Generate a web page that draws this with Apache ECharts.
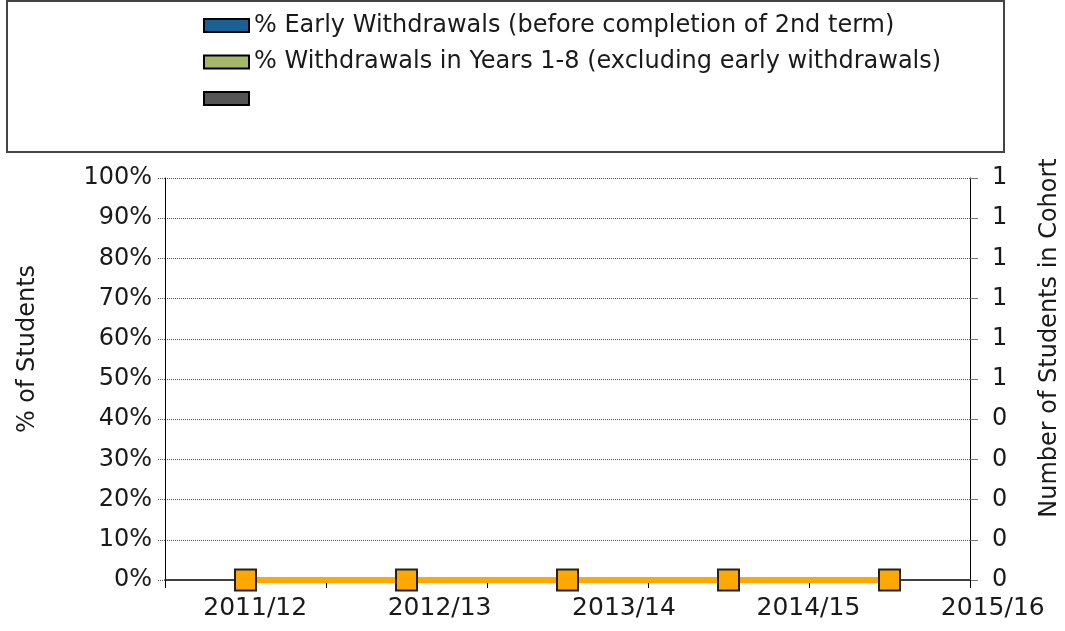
<!DOCTYPE html>
<html>
<head>
<meta charset="utf-8">
<script src="https://cdn.jsdelivr.net/npm/echarts@6/dist/echarts.min.js"></script>
<style>
  html, body { margin: 0; padding: 0; background: #fff; }
  #chart { width: 1065px; height: 631px; }
</style>
</head>
<body>
<div id="chart"></div>
<script>
// data
var years = ["2011/12", "2012/13", "2013/14", "2014/15", "2015/16"];
var earlyWithdrawals = [0, 0, 0, 0, 0];
var laterWithdrawals = [0, 0, 0, 0, 0];
var otherSeries = [0, 0, 0, 0, 0];
var cohortSize = [0, 0, 0, 0, 0];
var leftTicks = ["0%", "10%", "20%", "30%", "40%", "50%", "60%", "70%", "80%", "90%", "100%"];
var rightTicks = ["0", "0", "0", "0", "0", "1", "1", "1", "1", "1", "1"];

var FONT = "DejaVu Sans";
var TXT = "#1a1a1a";

var chart = echarts.init(document.getElementById("chart"));

function tickIdx(v) {
  return Math.round(v * 10);
}

chart.setOption({
  animation: false,
  textStyle: { fontFamily: FONT, color: TXT },
  graphic: [
    {
      type: "rect",
      shape: { x: 7, y: 1, width: 997, height: 151 },
      style: { fill: "none", stroke: "#444", lineWidth: 2 },
      silent: true
    }
  ],
  legend: {
    orient: "vertical",
    left: 203,
    top: 12.5,
    padding: 0,
    itemWidth: 45,
    itemHeight: 13,
    itemGap: 10.5,
    data: [
      "% Early Withdrawals (before completion of 2nd term)",
      "% Withdrawals in Years 1-8 (excluding early withdrawals)",
      " "
    ],
    icon: "rect",
    itemStyle: { borderColor: "#000", borderWidth: 2 },
    textStyle: { fontFamily: FONT, fontSize: 24, color: TXT, lineHeight: 26 }
  },
  grid: [
    { left: 165, width: 805, top: 178, height: 402, outerBoundsMode: "none" },
    { left: 163, width: 922, top: 178, height: 402, outerBoundsMode: "none" }
  ],
  xAxis: [
    {
      gridIndex: 0,
      type: "category",
      data: years,
      boundaryGap: true,
      axisLine: { lineStyle: { color: "#404040", width: 2 } },
      axisTick: { show: true, length: 8, lineStyle: { color: "#000" } },
      axisLabel: { show: false },
      splitLine: { show: false }
    },
    {
      gridIndex: 1,
      type: "category",
      data: years,
      boundaryGap: true,
      axisLine: { show: false },
      axisTick: { show: false },
      axisLabel: { fontFamily: FONT, fontSize: 25, color: TXT, margin: 16 },
      splitLine: { show: false }
    }
  ],
  yAxis: [
    {
      gridIndex: 0,
      type: "value",
      min: 0,
      max: 1,
      interval: 0.1,
      name: "% of Students",
      nameLocation: "middle",
      nameRotate: 90,
      nameGap: 125,
      nameTextStyle: { fontFamily: FONT, fontSize: 24, color: TXT, padding: [0, 0, 0, 60] },
      axisLine: { show: true, lineStyle: { color: "#000", width: 1 } },
      axisTick: { show: true, length: 8, lineStyle: { color: "#555", type: "dotted" } },
      axisLabel: {
        fontFamily: FONT, fontSize: 24, color: TXT, margin: 13,
        formatter: function (v) { return leftTicks[tickIdx(v)]; }
      },
      splitLine: { show: true, lineStyle: { color: "#555", type: "dotted", width: 1 } }
    },
    {
      gridIndex: 0,
      type: "value",
      position: "right",
      min: 0,
      max: 1,
      interval: 0.1,
      name: "Number of Students in Cohort",
      nameLocation: "middle",
      nameRotate: 90,
      nameGap: 68,
      nameTextStyle: { fontFamily: FONT, fontSize: 24, color: TXT, padding: [0, 0, 0, 82] },
      axisLine: { show: true, lineStyle: { color: "#000", width: 1 } },
      axisTick: { show: true, length: 8, lineStyle: { color: "#777" } },
      axisLabel: {
        fontFamily: FONT, fontSize: 24, color: TXT, margin: 22,
        formatter: function (v) { return rightTicks[tickIdx(v)]; }
      },
      splitLine: { show: false }
    },
    { gridIndex: 1, type: "value", show: false }
  ],
  series: [
    {
      name: "% Early Withdrawals (before completion of 2nd term)",
      type: "bar",
      stack: "pct",
      xAxisIndex: 0,
      yAxisIndex: 0,
      data: earlyWithdrawals,
      itemStyle: { color: "#1B6094" }
    },
    {
      name: "% Withdrawals in Years 1-8 (excluding early withdrawals)",
      type: "bar",
      stack: "pct",
      xAxisIndex: 0,
      yAxisIndex: 0,
      data: laterWithdrawals,
      itemStyle: { color: "#A5B86A" }
    },
    {
      name: " ",
      type: "bar",
      stack: "pct",
      xAxisIndex: 0,
      yAxisIndex: 0,
      data: otherSeries,
      itemStyle: { color: "#555555" }
    },
    {
      name: "Number of Students in Cohort",
      type: "line",
      xAxisIndex: 0,
      yAxisIndex: 1,
      data: cohortSize,
      symbol: "rect",
      symbolSize: 21,
      lineStyle: { color: "#FFA800", width: 6 },
      itemStyle: { color: "#FFA800", borderColor: "#222", borderWidth: 2 },
      z: 5
    }
  ]
});
</script>
</body>
</html>
